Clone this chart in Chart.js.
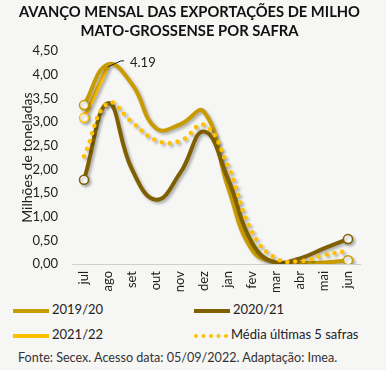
<!DOCTYPE html>
<html>
<head>
<meta charset="utf-8">
<script src="https://cdn.jsdelivr.net/npm/chart.js@4.4.0/dist/chart.umd.min.js"></script>
<style>
  body { margin: 0; background: #f6f6f4; font-family: Lato, "Noto Sans", sans-serif; }
  #wrap { position: relative; width: 386px; height: 370px; }
  #box { position: absolute; left: 0; top: 0; width: 386px; height: 300px; }
  .leg { position: absolute; font-size: 13px; color: #222; line-height: 16px; }
  .leg span.ln { display: inline-block; width: 36px; height: 0; vertical-align: middle; margin-right: 3px; }
  #src { position: absolute; left: 18px; top: 350px; font-size: 12.6px; color: #333; }
</style>
</head>
<body>
<div id="wrap">
  <div id="box"><canvas id="chart"></canvas></div>
  <div id="legend"></div>
  <div id="src">Fonte: Secex. Acesso data: 05/09/2022. Adaptação: Imea.</div>
</div>
<script>
// meses da safra
const months = ['jul', 'ago', 'set', 'out', 'nov', 'dez', 'jan', 'fev', 'mar', 'abr', 'mai', 'jun'];
const s1920 = [3.36, 4.22, 3.80, 2.87, 2.95, 3.22, 1.62, 0.30, 0.04, 0.02, 0.03, 0.08];
const s2021 = [1.78, 3.40, 2.00, 1.36, 1.92, 2.80, 1.80, 0.45, 0.02, 0.12, 0.33, 0.53];
const s2122 = [3.09, 4.19, null, null, null, null, null, null, null, null, null, null];
const media5 = [2.28, 3.40, 3.00, 2.62, 2.60, 2.94, 2.07, 0.68, 0.12, 0.06, 0.19, 0.28];
const yTicks = [0, 0.5, 1, 1.5, 2, 2.5, 3, 3.5, 4, 4.5];

const cGold = '#c89b00', cDark = '#7f6000', cYellow = '#ffc000';

// bolinhas brancas só no primeiro e último ponto
function endPoints(arr) {
  const last = arr.reduce((a, v, i) => v !== null ? i : a, 0);
  return arr.map((v, i) => (i === 0 || (i === last && i > 1)) ? 4.5 : 0);
}

const shadow = {
  id: 'shadow',
  beforeDatasetDraw(chart) {
    const ctx = chart.ctx;
    ctx.save();
    ctx.shadowColor = 'rgba(0,0,0,0.3)';
    ctx.shadowBlur = 3;
    ctx.shadowOffsetX = 2;
    ctx.shadowOffsetY = 2;
  },
  afterDatasetDraw(chart) { chart.ctx.restore(); }
};

const peakLabel = {
  id: 'peakLabel',
  afterDatasetsDraw(chart) {
    const ctx = chart.ctx;
    const x = chart.scales.x.getPixelForValue(1);
    const y = chart.scales.y.getPixelForValue(s2122[1]);
    ctx.save();
    ctx.strokeStyle = '#222';
    ctx.lineWidth = 1;
    ctx.beginPath();
    ctx.moveTo(x, y + 1);
    ctx.lineTo(x + 13, y - 5);
    ctx.lineTo(x + 16, y - 5);
    ctx.stroke();
    ctx.fillStyle = '#222';
    ctx.font = '13px Lato, "Noto Sans"';
    ctx.textBaseline = 'middle';
    ctx.fillText(s2122[1].toFixed(2), x + 22, y - 3);
    ctx.restore();
  }
};

function line(label, data, color, extra) {
  return Object.assign({
    label: label, data: data, borderColor: color, borderWidth: 4,
    tension: 0.45, pointRadius: endPoints(data), pointBackgroundColor: '#fff',
    pointBorderColor: color, pointBorderWidth: 1.5, spanGaps: false, fill: false
  }, extra || {});
}

const datasets = [
  line('Média últimas 5 safras', media5, cYellow, { borderDash: [0, 8], borderCapStyle: 'round', borderWidth: 4.5, pointRadius: 0 }),
  line('2020/21', s2021, cDark),
  line('2019/20', s1920, cGold),
  line('2021/22', s2122, cYellow)
];

new Chart(document.getElementById('chart'), {
  type: 'line',
  data: { labels: months, datasets: datasets },
  plugins: [shadow, peakLabel],
  options: {
    responsive: true, maintainAspectRatio: false, animation: false,
    layout: { padding: { left: 19, right: 26, top: 0, bottom: 0 } },
    plugins: {
      legend: { display: false },
      tooltip: { enabled: false },
      title: {
        display: true,
        text: ['AVANÇO MENSAL DAS EXPORTAÇÕES DE MILHO', 'MATO-GROSSENSE POR SAFRA'],
        color: '#111', font: { family: 'Lato', size: 14.8, weight: 'bold', lineHeight: 1.29 },
        padding: { top: 3, bottom: 10 }
      }
    },
    scales: {
      x: {
        offset: true,
        grid: { display: false, drawTicks: false },
        border: { color: '#d0d0d0', width: 1 },
        afterFit(s) { s.height = 36; },
        ticks: { minRotation: 90, maxRotation: 90, color: '#222', padding: 7, font: { family: 'Lato', size: 13 } }
      },
      y: {
        min: 0, max: 4.5,
        afterBuildTicks(s) { s.ticks = yTicks.map(v => ({ value: v })); },
        afterFit(s) { s.width = 53; },
        grid: { display: false, drawTicks: false },
        border: { display: false },
        title: { display: true, text: 'Milhões de toneladas', color: '#222', font: { family: 'Lato', size: 14 }, padding: { top: 0, bottom: 0 } },
        ticks: {
          color: '#222', padding: 14, font: { family: 'Lato', size: 13 },
          callback: v => v.toFixed(2).replace('.', ',')
        }
      }
    }
  }
});

// legenda em duas colunas
const legendItems = [
  { label: '2019/20', color: cGold, dotted: false, x: 13, y: 301 },
  { label: '2020/21', color: cDark, dotted: false, x: 194, y: 301 },
  { label: '2021/22', color: cYellow, dotted: false, x: 13, y: 326 },
  { label: 'Média últimas 5 safras', color: cYellow, dotted: true, x: 194, y: 326 }
];
const legEl = document.getElementById('legend');
legendItems.forEach(it => {
  const d = document.createElement('div');
  d.className = 'leg';
  d.style.left = it.x + 'px';
  d.style.top = it.y + 'px';
  const ln = document.createElement('span');
  ln.className = 'ln';
  ln.style.borderTop = it.dotted ? '4px dotted ' + it.color : '4px solid ' + it.color;
  if (it.dotted) ln.style.width = '34px';
  d.appendChild(ln);
  d.appendChild(document.createTextNode(it.label));
  legEl.appendChild(d);
});
</script>
</body>
</html>
